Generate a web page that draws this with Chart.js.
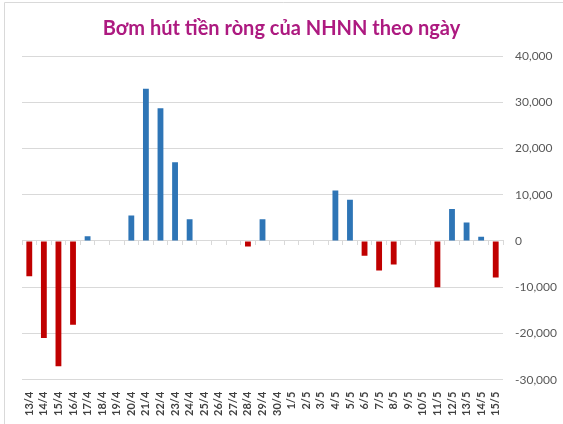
<!DOCTYPE html>
<html>
<head>
<meta charset="utf-8">
<script src="https://cdn.jsdelivr.net/npm/chart.js@4"></script>
<style>
    html, body { margin: 0; padding: 0; background: #fff; }
    #box { position: relative; width: 563px; height: 424px; }
</style>
</head>
<body>
<div id="box"><canvas id="chart"></canvas></div>
<script>
// ngày giao dịch
const dates = [
    '13/4', '14/4', '15/4', '16/4', '17/4', '18/4', '19/4', '20/4', '21/4',
    '22/4', '23/4', '24/4', '25/4', '26/4', '27/4', '28/4', '29/4', '30/4',
    '1/5', '2/5', '3/5', '4/5', '5/5', '6/5', '7/5', '8/5', '9/5', '10/5',
    '11/5', '12/5', '13/5', '14/5', '15/5',
]

// bơm (+) / hút (-) ròng, tỷ đồng
const netValues = [
    -7600, -21000, -27100, -18100, 1000, 0, 0, 5500, 32900,
    28700, 17000, 4700, 0, 0, 0, -1200, 4700, 0,
    0, 0, 0, 10900, 8900, -3200, -6400, -5100, 0, 0,
    -10000, 6900, 4000, 900, -7900,
]

const yTicks = [-30000, -20000, -10000, 0, 10000, 20000, 30000, 40000]

const titleText = 'Bơm hút tiền ròng của NHNN theo ngày'

const barColors = netValues.map((v) => (v >= 0 ? '#2e75b6' : '#c00000'))

// khung ngoài kiểu Excel
const framePlugin = {
    id: 'frame',
    beforeDraw(chart) {
        const ctx = chart.ctx
        ctx.save()
        ctx.strokeStyle = '#d9d9d9'
        ctx.lineWidth = 1
        ctx.beginPath()
        ctx.moveTo(4.5, chart.height)
        ctx.lineTo(4.5, 2.5)
        ctx.lineTo(chart.width, 2.5)
        ctx.stroke()
        ctx.restore()
    },
}

// tiêu đề căn giữa theo cả khung, không theo padding
const titleCenterPlugin = {
    id: 'titleCenter',
    afterLayout(chart) {
        const t = chart.titleBlock
        if (t) {
            t.left = 0
            t.right = chart.width
        }
    },
}

const ctx = document.getElementById('chart').getContext('2d')
new Chart(ctx, {
    type: 'bar',
    data: {
        labels: dates,
        datasets: [
            {
                data: netValues,
                backgroundColor: barColors,
                barPercentage: 0.4,
                categoryPercentage: 1,
            },
        ],
    },
    options: {
        responsive: true,
        maintainAspectRatio: false,
        animation: false,
        layout: {
            padding: { left: 22, right: -6, top: 0, bottom: 4 },
        },
        plugins: {
            legend: { display: false },
            tooltip: { enabled: false },
            title: {
                display: true,
                text: titleText,
                color: '#ad1a80',
                font: { family: 'Lato', size: 20, weight: 'bold' },
                padding: { top: 17, bottom: 15 },
            },
        },
        scales: {
            x: {
                position: { y: 0 },
                offset: true,
                ticks: { display: false },
                grid: {
                    offset: true,
                    drawOnChartArea: false,
                    drawTicks: true,
                    tickLength: 4,
                    color: '#d9d9d9',
                },
                border: { display: true, color: '#d9d9d9' },
            },
            x2: {
                type: 'category',
                position: 'bottom',
                offset: true,
                grid: { display: false },
                border: { display: false },
                ticks: {
                    autoSkip: false,
                    minRotation: 90,
                    maxRotation: 90,
                    padding: 4,
                    color: '#404040',
                    font: { family: 'Lato', size: 11, weight: 'bold' },
                },
            },
            y: {
                position: 'right',
                min: -30000,
                max: 40000,
                afterBuildTicks: (axis) => {
                    axis.ticks = yTicks.map((v) => ({ value: v }))
                },
                ticks: {
                    padding: 12,
                    color: '#595959',
                    font: { family: 'Lato', size: 12 },
                    callback: (v) => v.toLocaleString('en-US'),
                },
                grid: { color: '#d9d9d9', drawTicks: false },
                border: { display: false },
            },
        },
    },
    plugins: [framePlugin, titleCenterPlugin],
})
</script>
</body>
</html>
